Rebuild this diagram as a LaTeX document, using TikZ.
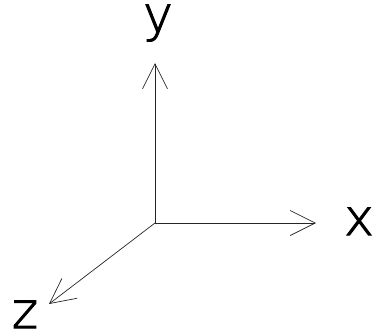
\documentclass[tikz,border=0pt]{standalone}
\usepackage{fontspec}
\setmainfont{DejaVu Sans ExtraLight}[UprightFeatures={FakeBold=2}]
\usetikzlibrary{arrows.meta}
\tikzset{
  axis/.style={line width=0.7pt, draw=black!85, -{Straight Barb[length=25pt,width=25pt,line width=0.7pt]}},
  axlabel/.style={font=\fontsize{50}{54}\selectfont, inner sep=0pt, anchor=base}
}
\begin{document}
\begin{tikzpicture}[x=1pt,y=-1pt]
\useasboundingbox (0,0) rectangle (373,335);
\coordinate (O) at (155,223);
\coordinate (Ytip) at (155,63);
\coordinate (Xtip) at (316,223);
\coordinate (Ztip) at (49,304);
\draw[axis] (O) -- (Ytip);
\draw[axis] (O) -- (Xtip);
\draw[axis] (O) -- (Ztip);
\node[axlabel] (ly) at (158,32) {y};
\node[axlabel] (lx) at (359,235) {x};
\node[axlabel] (lz) at (25,328) {z};
\end{tikzpicture}
\end{document}
